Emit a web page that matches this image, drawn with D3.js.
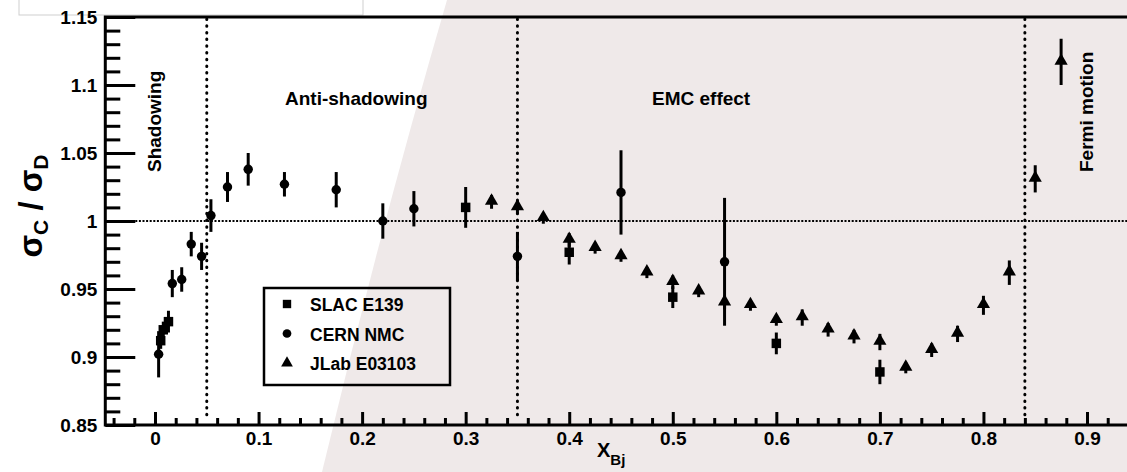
<!DOCTYPE html>
<html><head><meta charset="utf-8">
<script src="https://cdn.jsdelivr.net/npm/d3@7"></script>
<style>
body{margin:0;background:#fff}
svg{display:block}
text{font-family:"Liberation Sans",Arial,Helvetica,sans-serif;font-weight:bold;fill:#000}
</style>
</head><body>
<svg id="c" width="1127" height="472"></svg>
<script>
// ---- data ----
const slacX   = [0.0055, 0.008, 0.013, 0.30, 0.40, 0.50, 0.60, 0.70];
const slacY   = [0.912, 0.920, 0.926, 1.010, 0.977, 0.944, 0.910, 0.889];
const slacErr = [0.006, 0.006, 0.008, 0.015, 0.009, 0.008, 0.008, 0.009];

const cernX   = [0.0035, 0.0167, 0.0258, 0.035, 0.045, 0.054, 0.070, 0.090, 0.125, 0.175, 0.22, 0.25, 0.35, 0.45, 0.55];
const cernY   = [0.902, 0.954, 0.957, 0.983, 0.974, 1.004, 1.025, 1.038, 1.027, 1.023, 1.000, 1.009, 0.974, 1.021, 0.970];
const cernErr = [0.017, 0.010, 0.009, 0.009, 0.010, 0.012, 0.011, 0.012, 0.009, 0.013, 0.013, 0.013, 0.018, 0.031, 0.047];

const jlabX   = [0.325, 0.35, 0.375, 0.40, 0.425, 0.45, 0.475, 0.50, 0.525, 0.55, 0.575, 0.60, 0.625, 0.65, 0.675, 0.70, 0.725, 0.75, 0.775, 0.80, 0.825, 0.85, 0.875];
const jlabY   = [1.014, 1.010, 1.002, 0.986, 0.980, 0.974, 0.962, 0.955, 0.948, 0.940, 0.938, 0.927, 0.929, 0.920, 0.915, 0.911, 0.892, 0.905, 0.917, 0.938, 0.962, 1.031, 1.117];
const jlabErr = [0.005, 0.005, 0.004, 0.005, 0.004, 0.004, 0.004, 0.005, 0.004, 0.005, 0.004, 0.004, 0.006, 0.005, 0.005, 0.006, 0.004, 0.005, 0.006, 0.007, 0.009, 0.010, 0.017];

const xTickValues = [0, 0.1, 0.2, 0.3, 0.4, 0.5, 0.6, 0.7, 0.8, 0.9];
const xTickLabels = ["0", "0.1", "0.2", "0.3", "0.4", "0.5", "0.6", "0.7", "0.8", "0.9"];
const yTickValues = [0.85, 0.9, 0.95, 1.0, 1.05, 1.1, 1.15];
const yTickLabels = ["0.85", "0.9", "0.95", "1", "1.05", "1.1", "1.15"];

const regionLines = [0.05, 0.35, 0.84];
const legendNames = ["SLAC E139", "CERN NMC", "JLab E03103"];

// ---- layout ----
const svg = d3.select("#c");
const x = d3.scaleLinear().domain([0, 0.9]).range([155, 1087]);
const y = d3.scaleLinear().domain([0.85, 1.15]).range([425, 17]);
const xMin = -0.048;
const frameL = x(xMin), frameR = 1127 + 10, frameT = y(1.15), frameB = y(0.85);

// background shading
svg.append("path")
  .attr("d", "M447,0 Q380,230 322,472 L1127,472 L1127,0 Z")
  .attr("fill", "#efe9e9");
svg.append("rect").attr("x", 19).attr("y", -2).attr("width", 344).attr("height", 17)
  .attr("fill", "#fff").attr("stroke", "#cfcfcf").attr("stroke-width", 1);

// minor / major ticks via d3 axes
const minorY = d3.range(0.85, 1.1501, 0.01).filter(v => Math.abs(Math.round(v * 20) - v * 20) > 1e-6);
const minorX = d3.range(-0.04, 0.99, 0.02).filter(v => Math.abs(Math.round(v * 10) - v * 10) > 1e-6);

const gYmin = svg.append("g").attr("transform", `translate(${frameL},0)`)
  .call(d3.axisLeft(y).tickValues(minorY).tickSize(-15).tickFormat(""));
const gY = svg.append("g").attr("transform", `translate(${frameL},0)`)
  .call(d3.axisLeft(y).tickValues(yTickValues).tickSize(-30).tickPadding(8)
        .tickFormat((d, i) => yTickLabels[i]));
const gXmin = svg.append("g").attr("transform", `translate(0,${frameB})`)
  .call(d3.axisBottom(x).tickValues(minorX).tickSize(-7).tickFormat(""));
const gX = svg.append("g").attr("transform", `translate(0,${frameB})`)
  .call(d3.axisBottom(x).tickValues(xTickValues).tickSize(-13).tickPadding(7)
        .tickFormat((d, i) => xTickLabels[i]));

[gYmin, gY, gXmin, gX].forEach(g => {
  g.select(".domain").remove();
  g.selectAll(".tick line").attr("stroke", "#000").attr("stroke-width", 3);
  g.selectAll(".tick text").style("font-size", "19px").style("font-family", '"Liberation Sans",Arial,sans-serif').style("font-weight", "bold").attr("fill", "#000");
});

// frame
svg.append("path")
  .attr("d", `M${frameR},${frameT} L${frameL},${frameT} L${frameL},${frameB} L${frameR},${frameB}`)
  .attr("fill", "none").attr("stroke", "#000").attr("stroke-width", 3);

// reference dotted lines
svg.append("line").attr("x1", frameL + 30).attr("x2", frameR).attr("y1", y(1)).attr("y2", y(1))
  .attr("stroke", "#000").attr("stroke-width", 2).attr("stroke-dasharray", "2,1.6");
svg.selectAll(".vline").data(regionLines).enter().append("line")
  .attr("x1", d => x(d)).attr("x2", d => x(d)).attr("y1", frameT + 2).attr("y2", frameB - 6)
  .attr("stroke", "#000").attr("stroke-width", 3).attr("stroke-linecap", "round")
  .attr("stroke-dasharray", "0.5,6.2");

// region labels
svg.append("text").attr("x", 285).attr("y", 105).style("font-size", "19px").text("Anti-shadowing");
svg.append("text").attr("x", 652).attr("y", 105).style("font-size", "19px").text("EMC effect");
svg.append("text").attr("transform", "translate(161,172) rotate(-90)").style("font-size", "19px").text("Shadowing");
svg.append("text").attr("transform", "translate(1093,172) rotate(-90)").style("font-size", "19px").text("Fermi motion");

// axis titles
const yt = svg.append("text").attr("transform", "translate(42,206) rotate(-90)")
  .attr("text-anchor", "middle").style("font-size", "33px");
yt.append("tspan").text("σ");
yt.append("tspan").attr("dy", 6).style("font-size", "21px").text("C");
yt.append("tspan").attr("dy", -6).text(" / σ");
yt.append("tspan").attr("dy", 6).style("font-size", "21px").text("D");

const xt = svg.append("text").attr("x", 597).attr("y", 457).style("font-size", "20px");
xt.append("tspan").text("X");
xt.append("tspan").attr("dy", 8).style("font-size", "15px").text("Bj");

// data
function series(xs, ys, es) { return xs.map((v, i) => ({x: v, y: ys[i], e: es[i]})); }
const slac = series(slacX, slacY, slacErr);
const cern = series(cernX, cernY, cernErr);
const jlab = series(jlabX, jlabY, jlabErr);

const plot = svg.append("g");
[slac, cern, jlab].forEach(s => {
  plot.selectAll(null).data(s).enter().append("line")
    .attr("x1", d => x(d.x)).attr("x2", d => x(d.x))
    .attr("y1", d => y(d.y + d.e)).attr("y2", d => y(d.y - d.e))
    .attr("stroke", "#000").attr("stroke-width", 3);
});
const sq = d3.symbol().type(d3.symbolSquare).size(90);
const ci = d3.symbol().type(d3.symbolCircle).size(70);
const tr = d3.symbol().type(d3.symbolTriangle).size(75);
plot.selectAll(null).data(slac).enter().append("path")
  .attr("d", sq).attr("transform", d => `translate(${x(d.x)},${y(d.y)})`).attr("fill", "#000");
plot.selectAll(null).data(cern).enter().append("path")
  .attr("d", ci).attr("transform", d => `translate(${x(d.x)},${y(d.y)})`).attr("fill", "#000");
plot.selectAll(null).data(jlab).enter().append("path")
  .attr("d", tr).attr("transform", d => `translate(${x(d.x)},${y(d.y) - 1})`).attr("fill", "#000");

// legend
const lg = svg.append("g");
lg.append("rect").attr("x", 264).attr("y", 288).attr("width", 186).attr("height", 97)
  .attr("fill", "none").attr("stroke", "#000").attr("stroke-width", 2.5);
const legSyms = [d3.symbol().type(d3.symbolSquare).size(70), d3.symbol().type(d3.symbolCircle).size(60), d3.symbol().type(d3.symbolTriangle).size(60)];
legendNames.forEach((n, i) => {
  const cy = 304 + i * 29.5;
  lg.append("path").attr("d", legSyms[i]).attr("transform", `translate(287,${cy})`).attr("fill", "#000");
  lg.append("text").attr("x", 310).attr("y", cy + 7).style("font-size", "17.5px").text(n);
});
</script>
</body></html>
